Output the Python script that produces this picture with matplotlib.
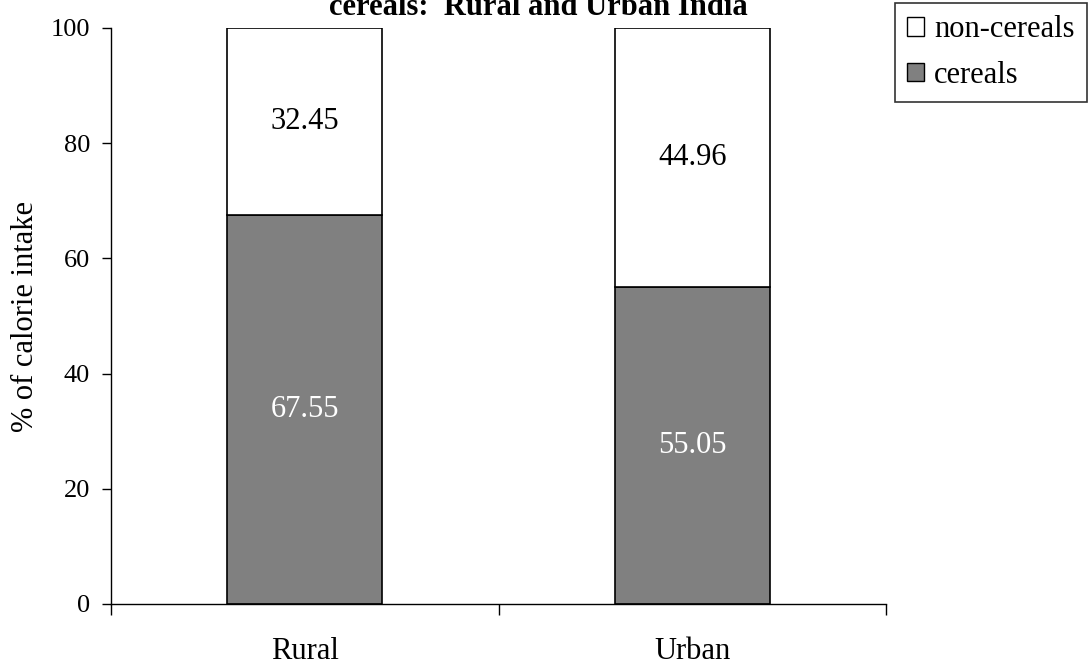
import matplotlib
matplotlib.use("Agg")
import matplotlib.pyplot as plt
from matplotlib.patches import Patch

categories = ["Rural", "Urban"]
cereals = [67.55, 55.05]
non_cereals = [32.45, 44.96]
series_labels = ["non-cereals", "cereals"]
yticks = [0, 20, 40, 60, 80, 100]

plt.rcParams['font.family'] = ['Liberation Serif', 'DejaVu Serif']
fs = 22
tfs = 19

fig = plt.figure(figsize=(10.9, 6.65), dpi=100)
ax = fig.add_axes([111/1090, 1-604/665, (886-111)/1090, (604-28)/665])

x = [0.5 + i for i in range(len(categories))]
b1 = ax.bar(x, cereals, width=0.4, color="#808080", edgecolor="black", linewidth=1.2)
b2 = ax.bar(x, non_cereals, width=0.4, bottom=cereals, color="white", edgecolor="black", linewidth=1.2)

for xi, c, n in zip(x, cereals, non_cereals):
    ax.text(xi, c/2, f"{c:.2f}", ha="center", va="center", color="white", fontsize=fs)
    ax.text(xi, c + n/2, f"{n:.2f}", ha="center", va="center", color="black", fontsize=fs)

ax.set_xlim(0, 2)
ax.set_ylim(0, 100)
ax.set_yticks(yticks)
ax.set_xticks([0, 1, 2], minor=False)
ax.set_xticklabels([])
ax.set_xticks(x, minor=True)
ax.set_xticklabels(categories, minor=True, fontsize=fs)
ax.tick_params(axis="x", which="minor", length=0, pad=24)
ax.tick_params(axis="x", which="major", length=8, direction="out", width=1)
ax.tick_params(axis="y", labelsize=tfs, length=6.5, width=1, direction="out", pad=8.5)
for s in ["top", "right"]:
    ax.spines[s].set_visible(False)
ax.spines["left"].set_linewidth(1)
ax.spines["bottom"].set_linewidth(1)
ax.set_ylabel("% of calorie intake", fontsize=fs, labelpad=8)

fig.text(538/1090, 1 - 15/665, "cereals:  Rural and Urban India", ha="center",
         va="baseline", fontsize=fs, fontweight="bold")

handles = [Patch(facecolor="white", edgecolor="black"), Patch(facecolor="#808080", edgecolor="black")]
leg = fig.legend(handles, series_labels, loc="upper right", bbox_to_anchor=(1087/1090, 1 - 3/665),
                 fontsize=fs, frameon=True, fancybox=False, edgecolor="black",
                 handlelength=0.55, handleheight=0.55, handletextpad=0.35, borderpad=0.4,
                 labelspacing=0.55, borderaxespad=0)
leg.get_frame().set_linewidth(1.2)

fig.savefig("out.png", dpi=100)
